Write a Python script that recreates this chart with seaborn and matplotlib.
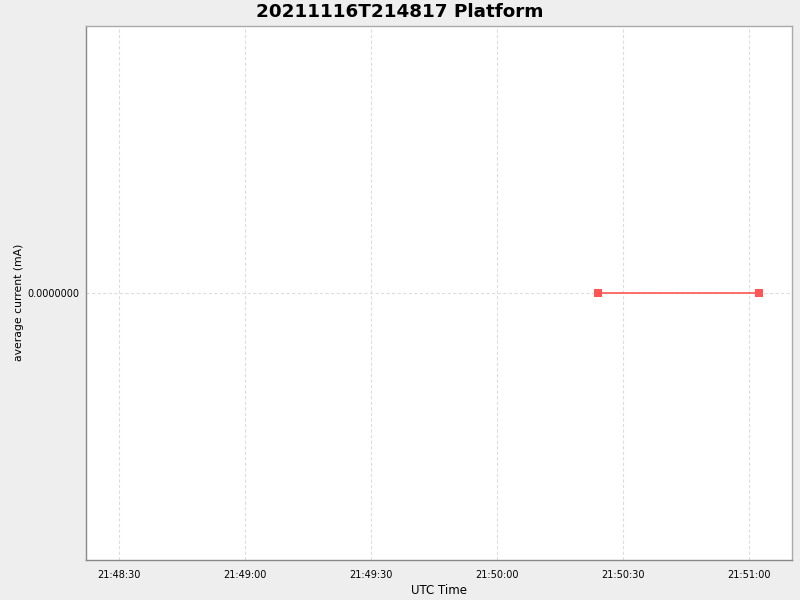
import pandas as pd
import numpy as np
import matplotlib
matplotlib.use('Agg')
import matplotlib.pyplot as plt
import matplotlib.dates as mdates
import seaborn as sns

times = ['2021-11-16 21:50:24.000', '2021-11-16 21:51:02.400']
current = [0.0, 0.0]
x_ticks = ['2021-11-16 21:48:30.000', '2021-11-16 21:49:00.000', '2021-11-16 21:49:30.000',
           '2021-11-16 21:50:00.000', '2021-11-16 21:50:30.000', '2021-11-16 21:51:00.000']
x_range = ['2021-11-16 21:48:22.100', '2021-11-16 21:51:10.200']

df = pd.DataFrame({'time': pd.to_datetime(times, format='ISO8601'), 'current': current})

sns.set_style('white')
plt.rcParams['font.family'] = ['DejaVu Sans']
plt.rcParams['text.color'] = 'black'
plt.rcParams['axes.labelcolor'] = 'black'
plt.rcParams['xtick.color'] = 'black'
plt.rcParams['ytick.color'] = 'black'

fig = plt.figure(figsize=(8, 6), dpi=100, facecolor='#EEEEEE')
ax = fig.add_axes([86 / 800, 40 / 600, 706 / 800, 534 / 600])
ax.set_facecolor('white')

sns.lineplot(data=df, x='time', y='current', ax=ax, color='#FF5555',
             linewidth=1.2, marker='s', markersize=6, markeredgewidth=0)

ax.set_xlim(pd.to_datetime(x_range, format='ISO8601'))
ax.set_ylim(-1, 1)
ax.set_xticks(pd.to_datetime(x_ticks, format='ISO8601'))
ax.xaxis.set_major_formatter(mdates.DateFormatter('%H:%M:%S'))
ax.set_yticks([0.0])
ax.set_yticklabels(['%.7f' % 0.0])

ax.grid(True, color='#DDDDDD', linestyle=(0, (3, 2)), linewidth=0.8)
ax.set_axisbelow(True)
for side in ['top', 'right', 'left', 'bottom']:
    ax.spines[side].set_color('#AAAAAA')
    ax.spines[side].set_linewidth(1)
ax.spines['left'].set_color('#888888')
ax.spines['bottom'].set_color('#888888')
ax.tick_params(axis='both', direction='out', length=2, width=0.8, color='#888888',
               labelsize=7, pad=3, labelcolor='black')
ax.tick_params(axis='x', pad=5)

ax.set_xlabel('UTC Time', fontsize=8.5, labelpad=3)
ax.set_ylabel('average current (mA)', fontsize=7.8)
ax.yaxis.set_label_coords(-0.088, 0.483)
fig.suptitle('20211116T214817 Platform', fontsize=13.2, fontweight='bold', y=0.995,
             color='black')

fig.savefig('out.png', dpi=100, facecolor=fig.get_facecolor())
